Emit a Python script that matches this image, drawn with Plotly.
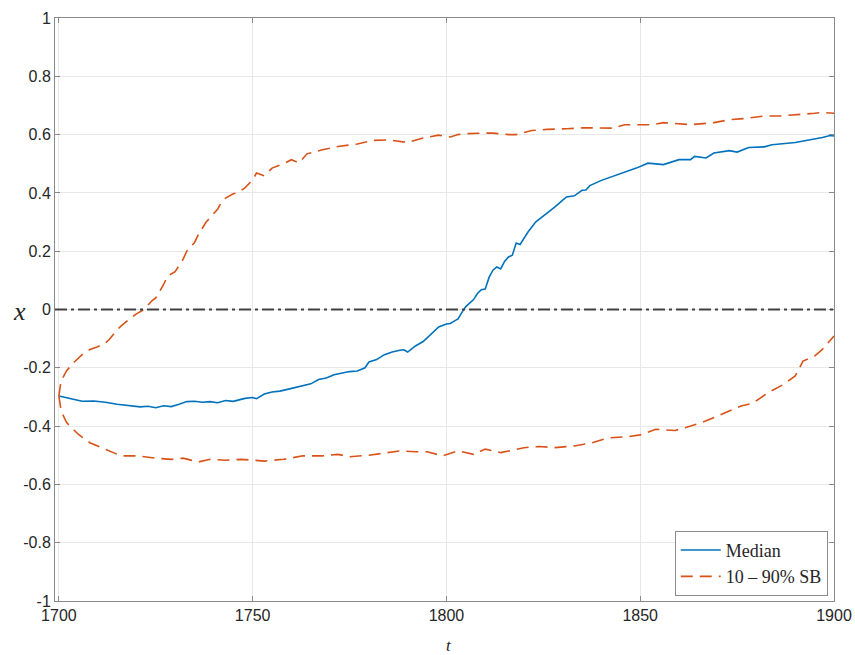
import plotly.graph_objects as go

# ---------------- data ----------------
median_t = [1700, 1703, 1706, 1709, 1712, 1715, 1718, 1721, 1723, 1725, 1727, 1729, 1731, 1733,
            1735, 1737, 1739, 1741, 1743, 1745, 1748, 1750, 1751, 1753, 1755, 1757, 1759, 1761,
            1763, 1765, 1767, 1769, 1771, 1773, 1775, 1777, 1779, 1780, 1782, 1784, 1786, 1788,
            1789, 1790, 1792, 1794, 1796, 1798, 1800, 1801, 1802, 1803, 1804, 1805, 1807, 1808,
            1809, 1810, 1811, 1812, 1813, 1814, 1815, 1816, 1817, 1818, 1819, 1820, 1821, 1823,
            1824, 1826, 1828, 1830, 1831, 1833, 1835, 1836, 1837, 1840, 1843, 1846, 1849, 1852,
            1856, 1860, 1863, 1864, 1867, 1869, 1873, 1875, 1878, 1882, 1884, 1890, 1893, 1897,
            1899, 1900]
median_x = [-0.297, -0.305, -0.315, -0.314, -0.318, -0.325, -0.330, -0.334, -0.332, -0.337,
            -0.330, -0.333, -0.325, -0.316, -0.315, -0.318, -0.316, -0.320, -0.312, -0.315,
            -0.305, -0.302, -0.306, -0.290, -0.283, -0.280, -0.274, -0.268, -0.260, -0.255,
            -0.240, -0.235, -0.224, -0.218, -0.213, -0.211, -0.200, -0.180, -0.172, -0.155,
            -0.146, -0.140, -0.138, -0.146, -0.125, -0.110, -0.085, -0.060, -0.050, -0.048,
            -0.040, -0.032, -0.010, 0.010, 0.034, 0.055, 0.068, 0.070, 0.110, 0.135, 0.146,
            0.139, 0.165, 0.180, 0.186, 0.228, 0.223, 0.245, 0.265, 0.300, 0.310, 0.329, 0.352,
            0.375, 0.386, 0.390, 0.409, 0.410, 0.425, 0.443, 0.457, 0.470, 0.485, 0.502, 0.497,
            0.514, 0.514, 0.525, 0.520, 0.537, 0.545, 0.540, 0.556, 0.558, 0.565, 0.573, 0.580,
            0.590, 0.597, 0.595]

upper_t = [1700, 1700.5, 1701, 1702, 1704, 1706, 1708, 1710, 1712, 1713, 1715, 1716, 1718, 1720,
           1722, 1724, 1725, 1727, 1728, 1730, 1732, 1733, 1735, 1736, 1738, 1739, 1741, 1742,
           1743, 1745, 1746, 1748, 1750, 1751, 1753, 1755, 1758, 1760, 1762, 1764, 1768, 1772,
           1777, 1781, 1785, 1790, 1794, 1798, 1801, 1803, 1805, 1809, 1812, 1816, 1818, 1822,
           1826, 1831, 1835, 1839, 1843, 1846, 1850, 1853, 1856, 1860, 1863, 1869, 1873, 1877,
           1882, 1886, 1890, 1895, 1897, 1900]
upper_x = [-0.297, -0.250, -0.235, -0.210, -0.180, -0.155, -0.137, -0.128, -0.115, -0.103,
           -0.070, -0.057, -0.035, -0.015, 0.000, 0.030, 0.040, 0.085, 0.114, 0.130, 0.171,
           0.200, 0.230, 0.257, 0.300, 0.315, 0.345, 0.370, 0.382, 0.397, 0.400, 0.417, 0.445,
           0.468, 0.459, 0.485, 0.500, 0.514, 0.503, 0.534, 0.548, 0.559, 0.568, 0.580, 0.582,
           0.573, 0.588, 0.598, 0.592, 0.600, 0.603, 0.605, 0.605, 0.600, 0.600, 0.614, 0.618,
           0.620, 0.623, 0.623, 0.622, 0.634, 0.634, 0.634, 0.641, 0.637, 0.634, 0.641, 0.651,
           0.655, 0.664, 0.664, 0.667, 0.673, 0.676, 0.673]

lower_t = [1700, 1700.5, 1701, 1702, 1704, 1705, 1708, 1710, 1713, 1716, 1720, 1722, 1725, 1729,
           1732, 1736, 1739, 1743, 1747, 1753, 1758, 1763, 1768, 1772, 1775, 1780, 1785, 1788,
           1792, 1795, 1799, 1803, 1807, 1810, 1814, 1820, 1824, 1828, 1833, 1837, 1842, 1847,
           1850, 1854, 1859, 1863, 1867, 1871, 1876, 1879, 1883, 1887, 1890, 1892, 1895, 1897,
           1900]
lower_x = [-0.297, -0.340, -0.360, -0.388, -0.415, -0.428, -0.457, -0.468, -0.485, -0.502,
           -0.502, -0.506, -0.510, -0.514, -0.510, -0.523, -0.514, -0.517, -0.514, -0.520,
           -0.514, -0.502, -0.502, -0.497, -0.505, -0.500, -0.491, -0.485, -0.488, -0.488,
           -0.502, -0.485, -0.497, -0.479, -0.491, -0.474, -0.470, -0.474, -0.468, -0.459,
           -0.440, -0.436, -0.430, -0.411, -0.415, -0.400, -0.382, -0.360, -0.331, -0.322,
           -0.285, -0.257, -0.228, -0.177, -0.160, -0.137, -0.091]

x_ticks = [1700, 1750, 1800, 1850, 1900]
x_tick_labels = ["1700", "1750", "1800", "1850", "1900"]
y_ticks = [1, 0.8, 0.6, 0.4, 0.2, 0, -0.2, -0.4, -0.6, -0.8, -1]
y_tick_labels = ["1", "0.8", "0.6", "0.4", "0.2", "0", "-0.2", "-0.4", "-0.6", "-0.8", "-1"]

BLUE = "#0072BD"
ORANGE = "#D95319"
AXIS = "#8a8a8a"
SERIF = "Liberation Serif, Times New Roman, serif"
SANS = "Liberation Sans, Arial, sans-serif"
DASH = "12px,7px"

fig = go.Figure()
fig.add_trace(go.Scatter(x=median_t, y=median_x, mode="lines", name="Median",
                         line=dict(color=BLUE, width=1.6)))
fig.add_trace(go.Scatter(x=upper_t, y=upper_x, mode="lines", name="10 \u2013 90% SB",
                         line=dict(color=ORANGE, width=1.6, dash=DASH)))
fig.add_trace(go.Scatter(x=lower_t, y=lower_x, mode="lines", showlegend=False,
                         line=dict(color=ORANGE, width=1.6, dash=DASH)))

fig.add_shape(type="line", xref="paper", yref="y", x0=0, x1=1, y0=0, y1=0,
              line=dict(color="#404040", width=1.8, dash="12px,4px,3px,4px"), layer="above")

axis_common = dict(showline=True, linecolor=AXIS, linewidth=1, mirror="ticks",
                   ticks="inside", ticklen=5, tickcolor=AXIS, showgrid=True,
                   gridcolor="#e8e8e8", gridwidth=1, zeroline=False, automargin=False,
                   tickfont=dict(family=SANS, size=16, color="#262626"))

fig.update_xaxes(range=[1699, 1900], tickvals=x_ticks, ticktext=x_tick_labels, **axis_common)
fig.update_yaxes(range=[-1, 1], tickvals=y_ticks, ticktext=y_tick_labels, **axis_common)

fig.add_annotation(text="<i>x</i>", xref="paper", yref="paper", x=-0.045, y=0.497,
                   showarrow=False, xanchor="center", yanchor="middle",
                   font=dict(family=SERIF, size=26, color="#262626"))
fig.add_annotation(text="<i>t</i>", xref="paper", yref="paper", x=0.506, y=-0.077,
                   showarrow=False, xanchor="center", yanchor="middle",
                   font=dict(family=SERIF, size=17, color="#262626"))

fig.update_layout(
    template="none",
    width=855, height=655, autosize=False,
    margin=dict(l=55, r=21, t=18, b=54, pad=0),
    plot_bgcolor="white", paper_bgcolor="white",
    legend=dict(x=0.992, y=0.009, xanchor="right", yanchor="bottom",
                bgcolor="white", bordercolor=AXIS, borderwidth=1,
                font=dict(family=SERIF, size=18, color="#262626"),
                tracegroupgap=0, itemwidth=40),
    showlegend=True,
)

# remove the browser's default 8px body margin so the figure sits at the page origin
fig.write_html("out.html",
               config={"displayModeBar": False, "responsive": False},
               post_script=("document.documentElement.style.overflow='hidden';"
                            "document.body.style.margin='0px';"
                            "document.body.style.overflow='hidden';"))
